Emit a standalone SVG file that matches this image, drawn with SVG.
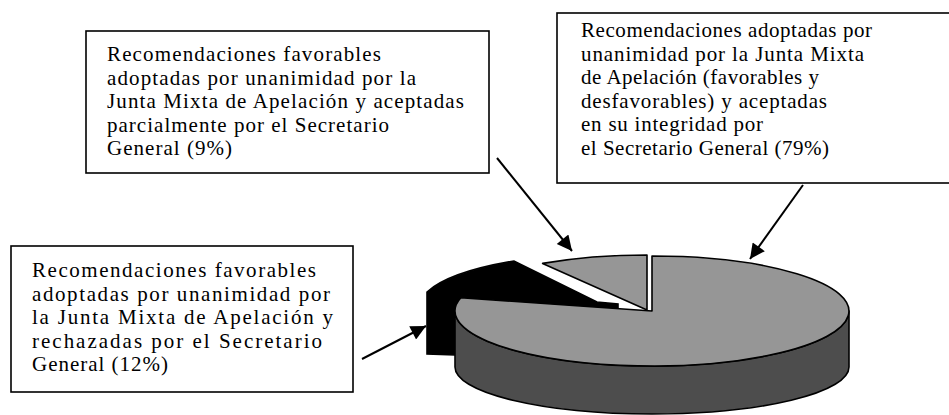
<svg xmlns="http://www.w3.org/2000/svg" width="949" height="415" viewBox="0 0 949 415">
<style>
.box{fill:#fff;stroke:#000;stroke-width:1.6}
.t{font-family:"Liberation Serif","Times New Roman",serif;font-size:21px;fill:#000}
.pie{stroke:#000;stroke-width:1.6;stroke-linejoin:round}
.top{fill:#969696}
.side{fill:#4d4d4d}
.conn{stroke:#000;stroke-width:2;fill:none}
</style>
<defs>
<marker id="ah" viewBox="0 0 10 10" refX="10" refY="5" markerWidth="17" markerHeight="15" markerUnits="userSpaceOnUse" orient="auto">
<path d="M0,0 L10,5 L0,10 z" fill="#000"/>
</marker>
</defs>
<rect width="949" height="415" fill="#fff"/>

<g id="pie">
<path id="slice12" d="M427,292 A197,55 0 0,1 514,261 L597,302 L618,304 L618,330 L455,355 L427,354 Z" fill="#000" stroke="#000" stroke-width="1.6"/>
<path id="slice9" class="pie top" d="M647,310 L542.6,263.4 A197,55 0 0,1 647,255 Z"/>
<path id="slice79side" class="pie side" d="M455,311 A197,55 0 0,0 849,311 L849,367 A197,47 0 0,1 455,367 Z"/>
<path id="slice79top" class="pie top" d="M652,311 L652,256 A197,55 0 1,1 460.8,297.7 Z"/>
</g>

<g id="box9">
<rect class="box" x="86" y="31" width="403" height="142"/>
<text class="t" x="107" y="61" textLength="274">Recomendaciones favorables</text>
<text class="t" x="107" y="84.5" textLength="309">adoptadas por unanimidad por la</text>
<text class="t" x="107" y="108" textLength="357">Junta Mixta de Apelación y aceptadas</text>
<text class="t" x="107" y="131.5" textLength="282">parcialmente por el Secretario</text>
<text class="t" x="107" y="155" textLength="125">General (9%)</text>
</g>

<g id="box79">
<rect class="box" x="557" y="13" width="420" height="170"/>
<text class="t" x="581" y="37" textLength="291">Recomendaciones adoptadas por</text>
<text class="t" x="581" y="60.5" textLength="283">unanimidad por la Junta Mixta</text>
<text class="t" x="581" y="84" textLength="238">de Apelación (favorables y</text>
<text class="t" x="581" y="107.5" textLength="246">desfavorables) y aceptadas</text>
<text class="t" x="581" y="131" textLength="182">en su integridad por</text>
<text class="t" x="581" y="154.5" textLength="248">el Secretario General (79%)</text>
</g>

<g id="box12">
<rect class="box" x="11" y="246" width="342" height="146"/>
<text class="t" x="32" y="277" textLength="284">Recomendaciones favorables</text>
<text class="t" x="32" y="300.5" textLength="298">adoptadas por unanimidad por</text>
<text class="t" x="32" y="324" textLength="301">la Junta Mixta de Apelación y</text>
<text class="t" x="32" y="347.5" textLength="290">rechazadas por el Secretario</text>
<text class="t" x="32" y="371" textLength="136">General (12%)</text>
</g>

<g id="connectors">
<line class="conn" x1="497" y1="158" x2="572" y2="251" marker-end="url(#ah)"/>
<line class="conn" x1="803" y1="185" x2="750" y2="259" marker-end="url(#ah)"/>
<line class="conn" x1="362" y1="359" x2="426" y2="326" marker-end="url(#ah)"/>
</g>
</svg>
